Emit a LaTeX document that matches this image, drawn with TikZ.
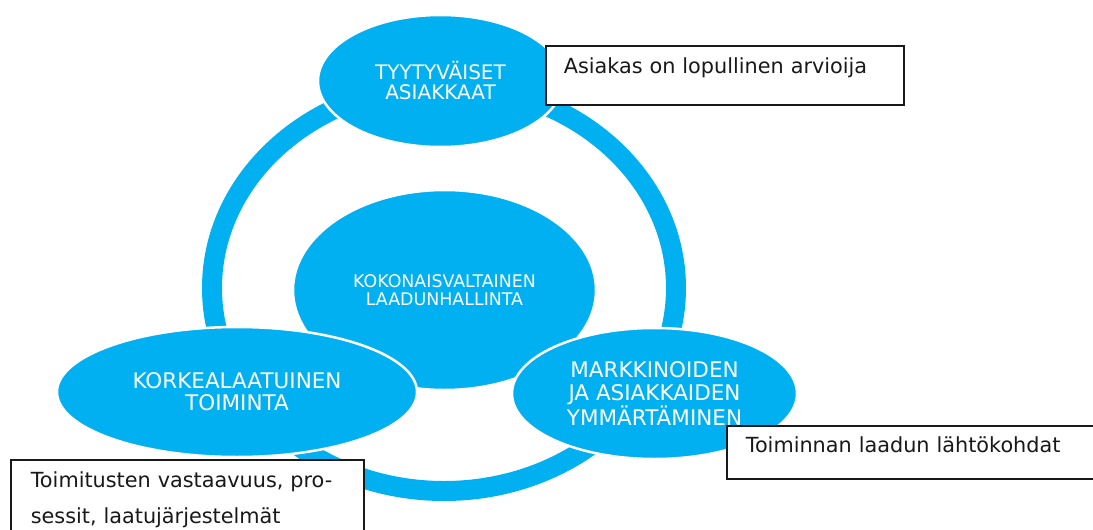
\documentclass[tikz,border=0pt]{standalone}
\usepackage{fontspec}
\setmainfont{DejaVu Sans}
\usetikzlibrary{shapes.geometric}
\definecolor{laatublue}{RGB}{0,176,240}
\definecolor{notegray}{RGB}{25,25,25}

\begin{document}
\begin{tikzpicture}[
                    x=1pt, y=-1pt,
                    bubble/.style={ellipse, fill=laatublue, draw=white, line width=2.5pt,
                                   text=white, align=center, inner sep=0pt},
                    note/.style={rectangle, draw=notegray, line width=1.6pt, fill=white,
                                 anchor=north west, inner ysep=0pt, align=left,
                                 text=notegray, font=\fontsize{20.8}{36}\selectfont}
                  ]
                  \useasboundingbox (0,0) rectangle (1093,530);
                  \draw[laatublue, line width=20pt] (444,288) ellipse [x radius=232pt, y radius=203pt];
                  \node[bubble, minimum width=303pt, minimum height=200pt,
                        font=\fontsize{17.4}{17.7}\selectfont] (kokonais) at (444.5,290)
                       {KOKONAISVALTAINEN\\LAADUNHALLINTA};
                  \node[bubble, minimum width=245pt, minimum height=132pt,
                        font=\fontsize{20}{20}\selectfont] (tyytyvaiset) at (440.5,81)
                       {TYYTYVÄISET\\ASIAKKAAT};
                  \node[bubble, minimum width=360pt, minimum height=130pt,
                        font=\fontsize{21.5}{22}\selectfont] (korkealaatuinen) at (237,392)
                       {KORKEALAATUINEN\\TOIMINTA};
                  \node[bubble, minimum width=285pt, minimum height=131pt,
                        font=\fontsize{21.5}{22.5}\selectfont] (markkinat) at (654.5,393.5)
                       {MARKKINOIDEN\\JA ASIAKKAIDEN\\YMMÄRTÄMINEN};
                  \node[note, text height=28pt, text depth=31pt, inner xsep=18pt,
                        text width=322pt] (arvioija) at (545,45)
                       {Asiakas on lopullinen arvioija};
                  \node[note, text height=27pt, text depth=26pt, inner xsep=19pt,
                        text width=336pt] (lahtokohdat) at (726,425)
                       {Toiminnan laadun lähtökohdat};
                  \node[note, text height=28pt, text depth=80pt, inner xsep=20pt,
                        text width=313pt] (vastaavuus) at (10,459)
                       {Toimitusten vastaavuus, pro-\\sessit, laatujärjestelmät};
\end{tikzpicture}
\end{document}
